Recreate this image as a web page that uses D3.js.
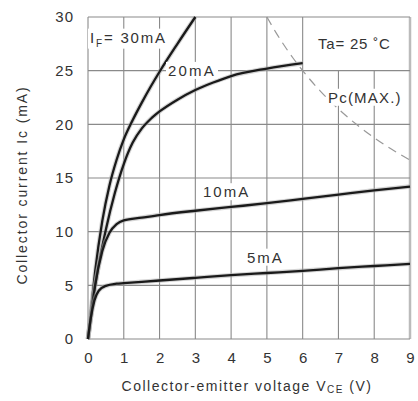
<!DOCTYPE html>
<html>
<head>
<meta charset="utf-8">
<script src="https://cdn.jsdelivr.net/npm/d3@7"></script>
<style>
  body { margin: 0; background: #fff; }
  text { font-family: "Liberation Sans", Arial, sans-serif; fill: #333; }
</style>
</head>
<body>
<div id="chart"></div>
<script>
var svgWidth = 418;
var svgHeight = 401;

var margin = { top: 17, right: 8, bottom: 62, left: 88 };
var width = svgWidth - margin.left - margin.right;
var height = svgHeight - margin.top - margin.bottom;

// tick values
var xTicks = [0, 1, 2, 3, 4, 5, 6, 7, 8, 9];
var yTicks = [0, 5, 10, 15, 20, 25, 30];

// curves: [Vce (V), Ic (mA)]
var if30 = [[0, 0], [0.1, 3.2], [0.2, 6.3], [0.4, 11], [0.6, 14.3], [0.8, 16.7], [1.0, 18.6], [1.25, 20.4], [1.5, 22], [1.75, 23.5], [2, 24.9], [2.5, 27.5], [3, 30]];
var if20 = [[0, 0], [0.1, 2.8], [0.25, 6], [0.5, 10.2], [0.75, 13.6], [1, 16.3], [1.25, 18.3], [1.5, 19.6], [1.75, 20.5], [2, 21.2], [2.5, 22.3], [3, 23.2], [3.5, 23.9], [4, 24.5], [5, 25.2], [6, 25.7]];
var if10 = [[0, 0], [0.1, 2.5], [0.2, 5], [0.4, 8.2], [0.6, 9.9], [0.8, 10.7], [1, 11.05], [1.5, 11.3], [2, 11.55], [3, 11.95], [4, 12.3], [5, 12.65], [6, 13.05], [7, 13.45], [8, 13.85], [9, 14.2]];
var if5 = [[0, 0], [0.08, 2], [0.18, 3.6], [0.3, 4.5], [0.5, 4.95], [0.8, 5.15], [1, 5.2], [2, 5.45], [3, 5.7], [4, 5.95], [5, 6.15], [6, 6.35], [7, 6.6], [8, 6.8], [9, 7.0]];
// collector power dissipation limit, mW
var pcMax = 150;
var pcVolts = [5, 5.25, 5.5, 5.75, 6, 6.5, 7, 7.5, 8, 8.5, 9];

var svg = d3.select("#chart")
    .append("svg")
    .attr("width", svgWidth)
    .attr("height", svgHeight);

var chartGroup = svg.append("g")
    .attr("transform", `translate(${margin.left}, ${margin.top})`);

var xScale = d3.scaleLinear().domain([0, 9]).range([0, width]);
var yScale = d3.scaleLinear().domain([0, 30]).range([height, 0]);

// grid (V=7 and V=8 stop under the Ta box)
var grid = chartGroup.append("g")
    .attr("stroke", "#8a8a8a")
    .attr("stroke-width", 1.1);

xTicks.forEach(function (v) {
    var top = (v === 7 || v === 8) ? 25 : 30;
    grid.append("line")
        .attr("x1", xScale(v)).attr("x2", xScale(v))
        .attr("y1", yScale(0)).attr("y2", yScale(top))
        .attr("stroke", v === 9 ? "#bbb" : null)
        .attr("stroke-width", v === 9 ? 2.5 : null);
});
yTicks.forEach(function (c) {
    grid.append("line")
        .attr("x1", xScale(0)).attr("x2", xScale(9))
        .attr("y1", yScale(c)).attr("y2", yScale(c));
});

// axes (labels only)
var bottomAxis = d3.axisBottom(xScale).tickValues(xTicks).tickSize(0).tickPadding(13);
var leftAxis = d3.axisLeft(yScale).tickValues(yTicks).tickSize(0).tickPadding(14);

chartGroup.append("g")
    .attr("transform", `translate(0, ${height})`)
    .call(bottomAxis)
    .call(g => g.select(".domain").remove())
    .selectAll("text")
    .attr("font-size", "15px")
    .attr("fill", "#333");

chartGroup.append("g")
    .call(leftAxis)
    .call(g => g.select(".domain").remove())
    .selectAll("text")
    .attr("font-size", "15px")
    .attr("letter-spacing", "1px")
    .attr("fill", "#333");

// Pc(MAX) dashed hyperbola
var line = d3.line()
    .x(d => xScale(d[0]))
    .y(d => yScale(d[1]))
    .curve(d3.curveMonotoneX);

chartGroup.append("path")
    .datum(pcVolts.map(v => [v, pcMax / v]))
    .attr("d", line)
    .attr("fill", "none")
    .attr("stroke", "#999")
    .attr("stroke-width", 1.2)
    .attr("stroke-dasharray", "9,6");

// characteristic curves
[if30, if20, if10, if5].forEach(function (s) {
    chartGroup.append("path")
        .datum(s)
        .attr("d", line)
        .attr("fill", "none")
        .attr("stroke", "#aaa")
        .attr("stroke-width", 4.5)
        .attr("opacity", 0.5);
    chartGroup.append("path")
        .datum(s)
        .attr("d", line)
        .attr("fill", "none")
        .attr("stroke", "#1a1a1a")
        .attr("stroke-width", 2.3);
});

// labels with white backing
function label(txt, x, y, ls, sub) {
    var g = chartGroup.append("g");
    var t = g.append("text")
        .attr("x", x)
        .attr("y", y)
        .attr("dy", "0.35em")
        .attr("font-size", "15px")
        .attr("letter-spacing", ls + "px");
    if (sub) {
        t.append("tspan").text(txt[0]);
        t.append("tspan").attr("font-size", "10px").attr("dy", "4").text(sub);
        t.append("tspan").attr("dy", "-4").text(txt[1]);
    } else {
        t.text(txt);
    }
    var b = t.node().getBBox();
    g.insert("rect", "text")
        .attr("x", b.x - 2).attr("y", b.y)
        .attr("width", b.width + 4).attr("height", b.height)
        .attr("fill", "#fff");
}

label(["I", "= 30mA"], 2, yScale(28.1), 1.8, "F");
label("20mA", 80, yScale(25), 2.2);
label("10mA", 115, yScale(13.7), 2);
label("5mA", 159, yScale(7.6), 2);
label("Ta= 25 \u02DAC", 230, yScale(27.5), 0.8);
label("Pc(MAX.)", 240, yScale(22.5), 1.2);

// axis titles
svg.append("text")
    .attr("x", 247)
    .attr("y", 391)
    .attr("text-anchor", "middle")
    .attr("font-size", "14px")
    .attr("letter-spacing", "1.5px")
    .html('Collector-emitter voltage V<tspan font-size="10px" dy="2">CE</tspan><tspan dy="-2"> (V)</tspan>');

svg.append("text")
    .attr("transform", "translate(27, 185) rotate(-90)")
    .attr("text-anchor", "middle")
    .attr("font-size", "14px")
    .attr("letter-spacing", "1.9px")
    .text("Collector current Ic (mA)");
</script>
</body>
</html>
